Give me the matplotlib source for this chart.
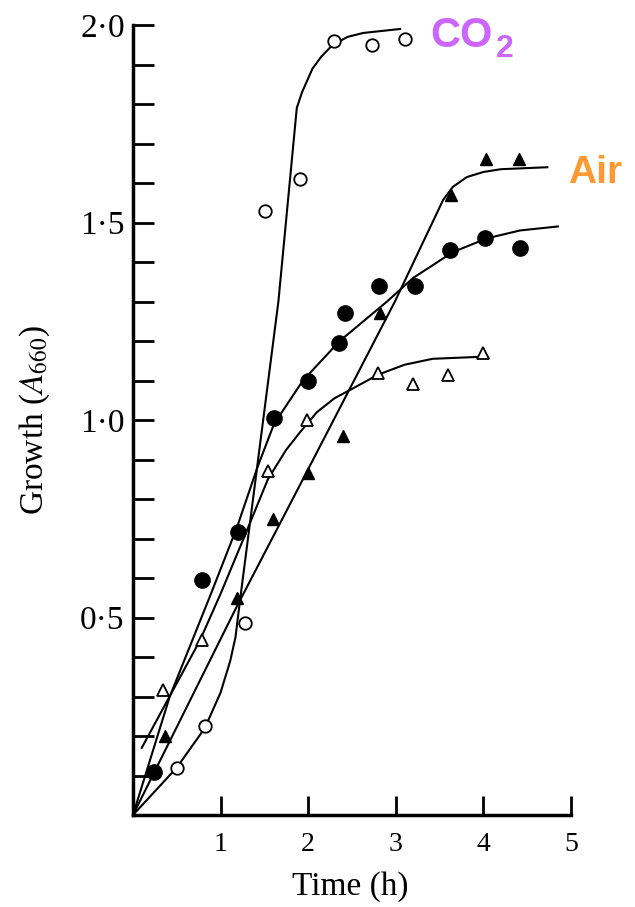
import matplotlib
matplotlib.use('Agg')
import matplotlib.pyplot as plt
from matplotlib.ticker import FixedLocator, FixedFormatter

# measured points (time in h, growth A660)
co2_t = [0.50, 0.82, 1.28, 1.51, 1.91, 2.29, 2.73, 3.10]
co2_y = [0.12, 0.225, 0.487, 1.53, 1.61, 1.96, 1.95, 1.965]

fcirc_t = [0.24, 0.79, 1.20, 1.61, 2.00, 2.35, 2.42, 2.81, 3.22, 3.62, 4.02, 4.42]
fcirc_y = [0.11, 0.595, 0.716, 1.005, 1.10, 1.195, 1.27, 1.34, 1.34, 1.43, 1.46, 1.435]

ftri_t = [0.37, 1.19, 1.60, 2.00, 2.40, 2.82, 3.63, 4.03, 4.41]
ftri_y = [0.20, 0.55, 0.75, 0.865, 0.96, 1.27, 1.57, 1.66, 1.66]

otri_t = [0.34, 0.79, 1.54, 1.99, 2.80, 3.20, 3.60, 4.00]
otri_y = [0.316, 0.443, 0.87, 1.0, 1.12, 1.09, 1.115, 1.17]

# hand drawn fitted curves
co2_curve_t = [0.0, 0.50, 0.82, 1.0, 1.11, 1.17, 1.22, 1.66, 1.87, 1.93,
               1.99, 2.05, 2.15, 2.28, 2.45, 2.63, 3.05]
co2_curve_y = [0.0, 0.12, 0.22, 0.31, 0.39, 0.45, 0.54, 1.30, 1.79, 1.83,
               1.86, 1.89, 1.92, 1.95, 1.97, 1.98, 1.99]

fcirc_curve_t = [0.0, 0.42, 0.89, 1.19, 1.42, 1.61, 1.94, 2.36, 2.90, 3.20,
                 3.65, 4.04, 4.42, 4.85]
fcirc_curve_y = [0.0, 0.30, 0.56, 0.73, 0.88, 0.99, 1.10, 1.20, 1.30, 1.36,
                 1.425, 1.46, 1.48, 1.49]

ftri_curve_t = [0.0, 1.19, 1.94, 2.99, 3.54, 3.65, 3.81, 4.0, 4.2, 4.73]
ftri_curve_y = [0.0, 0.53, 0.85, 1.30, 1.557, 1.59, 1.615, 1.628, 1.635, 1.64]

otri_curve_t = [0.10, 0.76, 1.0, 1.3, 1.54, 1.75, 1.91, 2.1, 2.3, 2.51,
                2.8, 3.1, 3.42, 3.96]
otri_curve_y = [0.17, 0.44, 0.56, 0.72, 0.85, 0.925, 0.97, 1.02, 1.055, 1.08,
                1.115, 1.14, 1.155, 1.16]

xticks = [1, 2, 3, 4, 5]
xticklabels = ['1', '2', '3', '4', '5']
yticks = [0.5, 1.0, 1.5, 2.0]
yticklabels = ['0\u00b75', '1\u00b70', '1\u00b75', '2\u00b70']
yminor = [0.1, 0.2, 0.3, 0.4, 0.6, 0.7, 0.8, 0.9, 1.1, 1.2, 1.3, 1.4,
          1.6, 1.7, 1.8, 1.9]

plt.rcParams['font.family'] = 'Liberation Serif'
plt.rcParams['mathtext.fontset'] = 'stix'

fig = plt.figure(figsize=(6.35, 9.07), dpi=100)
ax = fig.add_axes([0.2094, 0.1014, 0.6898, 0.871])

lw = 1.5
ax.plot(co2_curve_t, co2_curve_y, color='black', lw=lw)
ax.plot(fcirc_curve_t, fcirc_curve_y, color='black', lw=lw)
ax.plot(ftri_curve_t, ftri_curve_y, color='black', lw=lw)
ax.plot(otri_curve_t, otri_curve_y, color='black', lw=lw)

ax.plot(co2_t, co2_y, 'o', ms=9, mfc='white', mec='black', mew=1.3)
ax.plot(fcirc_t, fcirc_y, 'o', ms=11, color='black')
ax.plot(ftri_t, ftri_y, '^', ms=8, color='black')
ax.plot(otri_t, otri_y, '^', ms=9, mfc='white', mec='black', mew=1.3)

ax.set_xlim(0, 5)
ax.set_ylim(0, 2.0)

for s in ['top', 'right']:
    ax.spines[s].set_visible(False)
for s in ['left', 'bottom']:
    ax.spines[s].set_linewidth(2.5)

ax.xaxis.set_major_locator(FixedLocator(xticks))
ax.xaxis.set_major_formatter(FixedFormatter(xticklabels))
ax.yaxis.set_major_locator(FixedLocator(yticks))
ax.yaxis.set_major_formatter(FixedFormatter(yticklabels))
ax.yaxis.set_minor_locator(FixedLocator(yminor))

ax.tick_params(axis='y', which='both', direction='in', length=15, width=2,
               labelsize=24, pad=6)
ax.tick_params(axis='x', which='both', direction='in', length=14, width=2,
               labelsize=20, pad=12)

ax.set_xlabel('Time (h)', fontsize=24)
ax.xaxis.set_label_coords(0.495, -0.091)
ax.xaxis.label.set_va('center')
ax.set_ylabel('Growth ($\\mathit{A}_{660}$)', fontsize=24)
ax.yaxis.set_label_coords(-0.224, 0.50)
ax.yaxis.label.set_va('center')

purple = '#cc66ff'
orange = '#ff9933'
fig.text(430 / 635, 1 - 47 / 907, 'CO', family='Liberation Sans',
         weight='bold', fontsize=30, color=purple, va='baseline', ha='left')
fig.text(496 / 635, 1 - 57 / 907, '2', family='Liberation Sans',
         weight='bold', fontsize=23, color=purple, va='baseline', ha='left')
fig.text(568 / 635, 1 - 183 / 907, 'Air', family='Liberation Sans',
         weight='bold', fontsize=28, color=orange, va='baseline', ha='left')

fig.savefig('out.png', dpi=100)
